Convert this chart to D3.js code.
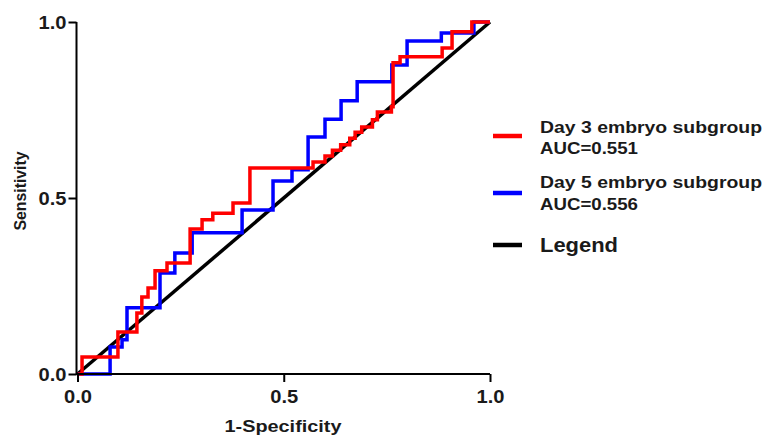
<!DOCTYPE html>
<html>
<head>
<meta charset="utf-8">
<script src="https://cdn.jsdelivr.net/npm/d3@7/dist/d3.min.js"></script>
<style>
  html, body { margin: 0; padding: 0; background: #fff; }
  svg { display: block; font-family: "Liberation Sans", Arial, sans-serif; }
</style>
</head>
<body>
<svg id="chart" width="767" height="435"></svg>
<script>
// ROC step vertices: each point is the top of a vertical rise (curveStepAfter)
const day3FPR = [0, 0.011, 0.098, 0.144, 0.156, 0.171, 0.188, 0.217, 0.273, 0.302, 0.328, 0.377, 0.418, 0.571, 0.600, 0.618, 0.638, 0.660, 0.673, 0.689, 0.715, 0.727, 0.761, 0.765, 0.782, 0.884, 0.908, 0.956, 1.0];
const day3TPR = [0, 0.048, 0.119, 0.173, 0.219, 0.244, 0.293, 0.315, 0.412, 0.438, 0.457, 0.486, 0.585, 0.602, 0.619, 0.636, 0.651, 0.670, 0.687, 0.702, 0.722, 0.744, 0.759, 0.884, 0.901, 0.926, 0.972, 1.0, 1.0];
const day5FPR = [0, 0.079, 0.108, 0.120, 0.200, 0.236, 0.278, 0.399, 0.474, 0.520, 0.559, 0.600, 0.639, 0.678, 0.762, 0.799, 0.882, 0.961, 1.0];
const day5TPR = [0, 0.077, 0.097, 0.188, 0.287, 0.344, 0.401, 0.466, 0.548, 0.580, 0.673, 0.724, 0.776, 0.830, 0.878, 0.946, 0.969, 1.0, 1.0];
const refX = [0, 1];
const refY = [0, 1];
const tickValues = [0, 0.5, 1.0];
const seriesNames = ["Day 3 embryo subgroup", "Day 5 embryo subgroup", "Legend"];
const aucLabels = ["AUC=0.551", "AUC=0.556", ""];
const seriesColors = ["#ff0000", "#0000ff", "#000000"];

const svg = d3.select("#chart");
const x = d3.scaleLinear().domain([0, 1]).range([77.5, 490]);
const y = d3.scaleLinear().domain([0, 1]).range([374, 22]);

const stepLine = d3.line().x(d => x(d[0])).y(d => y(d[1])).curve(d3.curveStepAfter);
const straight = d3.line().x(d => x(d[0])).y(d => y(d[1]));

const refData = refX.map((v, i) => [v, refY[i]]);
const day3 = day3FPR.map((v, i) => [v, day3TPR[i]]);
const day5 = day5FPR.map((v, i) => [v, day5TPR[i]]);

const plot = svg.append("g");
plot.append("path").datum(refData).attr("d", straight)
  .attr("fill", "none").attr("stroke", seriesColors[2]).attr("stroke-width", 3.5);
plot.append("path").datum(day5).attr("d", stepLine)
  .attr("fill", "none").attr("stroke", seriesColors[1]).attr("stroke-width", 3.5);
plot.append("path").datum(day3).attr("d", stepLine)
  .attr("fill", "none").attr("stroke", seriesColors[0]).attr("stroke-width", 3.5);

// Axes
const fmt = d3.format(".1f");
const xAxis = svg.append("g").attr("transform", "translate(0,374)")
  .call(d3.axisBottom(x).tickValues(tickValues).tickFormat(fmt).tickSize(8).tickPadding(8).tickSizeOuter(0));
const yAxis = svg.append("g").attr("transform", "translate(76.5,0)")
  .call(d3.axisLeft(y).tickValues(tickValues).tickFormat(fmt).tickSize(8).tickPadding(2).tickSizeOuter(0));
[xAxis, yAxis].forEach(a => {
  a.select(".domain").attr("stroke", "#000").attr("stroke-width", 2);
  a.selectAll(".tick line").attr("stroke", "#000").attr("stroke-width", 2);
  a.selectAll(".tick text").attr("fill", "#1a1a1a").attr("font-size", 19)
    .attr("font-weight", "bold").attr("font-family", "'Liberation Sans', Arial, sans-serif")
    .attr("textLength", 28).attr("lengthAdjust", "spacingAndGlyphs");
});
xAxis.select(".domain").attr("d", "M76,0H490");
yAxis.select(".domain").attr("d", "M0,22V375");

// Axis titles
svg.append("text").attr("x", 283).attr("y", 432).attr("text-anchor", "middle")
  .attr("font-size", 17).attr("font-weight", "bold").attr("fill", "#1a1a1a")
  .attr("textLength", 117).attr("lengthAdjust", "spacingAndGlyphs")
  .text("1-Specificity");
svg.append("text").attr("transform", "translate(26,191) rotate(-90)").attr("text-anchor", "middle")
  .attr("font-size", 16).attr("font-weight", "bold").attr("fill", "#1a1a1a")
  .attr("textLength", 79).attr("lengthAdjust", "spacingAndGlyphs")
  .text("Sensitivity");

// Legend
const legendLineY = [136, 193, 245];
const legendText1Y = [133, 188, 252];
const legendText2Y = [154, 210, null];
seriesNames.forEach((name, i) => {
  svg.append("line").attr("x1", 493).attr("x2", 522)
    .attr("y1", legendLineY[i]).attr("y2", legendLineY[i])
    .attr("stroke", seriesColors[i]).attr("stroke-width", 4.5);
  if (i < 2) {
    svg.append("text").attr("x", 540).attr("y", legendText1Y[i])
      .attr("font-size", 17).attr("font-weight", "bold").attr("fill", "#1a1a1a")
      .attr("textLength", 222).attr("lengthAdjust", "spacingAndGlyphs").text(name);
    svg.append("text").attr("x", 540).attr("y", legendText2Y[i])
      .attr("font-size", 17).attr("font-weight", "bold").attr("fill", "#1a1a1a")
      .attr("textLength", 98).attr("lengthAdjust", "spacingAndGlyphs").text(aucLabels[i]);
  } else {
    svg.append("text").attr("x", 540).attr("y", legendText1Y[i])
      .attr("font-size", 21).attr("font-weight", "bold").attr("fill", "#1a1a1a")
      .attr("textLength", 78).attr("lengthAdjust", "spacingAndGlyphs").text(name);
  }
});
</script>
</body>
</html>
